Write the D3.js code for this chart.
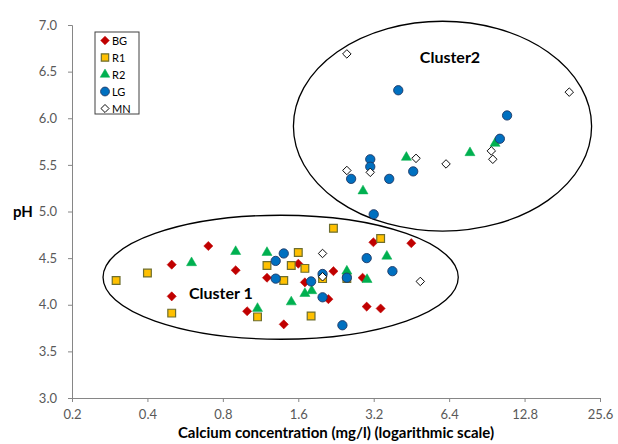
<!DOCTYPE html>
<html>
<head>
<meta charset="utf-8">
<script src="https://cdn.jsdelivr.net/npm/d3@7"></script>
<style>
  body { margin: 0; background: #fff; }
  svg { display: block; font-family: Lato, 'Open Sans', sans-serif; }
</style>
</head>
<body>
<svg id="chart" width="618" height="444"></svg>
<script>
const xTicks = [0.2, 0.4, 0.8, 1.6, 3.2, 6.4, 12.8, 25.6];
const xTickLabels = ['0.2', '0.4', '0.8', '1.6', '3.2', '6.4', '12.8', '25.6'];
const yTicks = [3.0, 3.5, 4.0, 4.5, 5.0, 5.5, 6.0, 6.5, 7.0];

const bgCa = [0.50, 0.50, 0.70, 0.90, 1.00, 1.20, 1.40, 1.60, 1.70, 2.11, 2.21, 2.89, 3.00, 3.19, 3.41, 4.52];
const bgPH = [4.43, 4.09, 4.63, 4.37, 3.93, 4.29, 3.79, 4.44, 4.24, 4.06, 4.36, 4.29, 3.98, 4.67, 3.96, 4.66];

const r1Ca = [0.30, 0.40, 0.50, 1.10, 1.20, 1.40, 1.50, 1.60, 1.70, 1.80, 2.00, 2.21, 2.50, 3.41];
const r1PH = [4.26, 4.34, 3.91, 3.87, 4.42, 4.26, 4.42, 4.56, 4.39, 3.88, 4.28, 4.82, 4.28, 4.71];

const r2Ca = [0.60, 0.90, 1.10, 1.20, 1.50, 1.70, 1.81, 2.50, 3.01, 3.61, 2.90, 4.32, 7.75, 9.76];
const r2PH = [4.45, 4.57, 3.96, 4.56, 4.03, 4.12, 4.15, 4.36, 4.27, 4.52, 5.22, 5.58, 5.63, 5.73];

const lgCa = [1.30, 1.40, 1.30, 1.80, 2.00, 2.00, 2.40, 2.50, 3.00, 3.80, 3.20, 2.60, 3.10, 3.10, 3.69, 4.60, 4.01, 10.2, 10.9];
const lgPH = [4.47, 4.55, 4.28, 4.25, 4.33, 4.08, 3.78, 4.29, 4.50, 4.36, 4.97, 5.35, 5.56, 5.48, 5.35, 5.43, 6.30, 5.78, 6.03];

const mnCa = [2.00, 2.00, 4.91, 2.50, 19.3, 2.50, 3.10, 4.72, 6.22, 9.43, 9.56];
const mnPH = [4.55, 4.30, 4.25, 6.69, 6.28, 5.44, 5.42, 5.57, 5.51, 5.65, 5.56];

// cluster outlines: [minCa, maxCa, minPH, maxPH]
const cluster1 = [0.266, 6.96, 3.63, 4.96];
const cluster2 = [1.53, 23.7, 4.79, 7.04];

const svg = d3.select('#chart');
const x = d3.scaleLog().base(2).domain([0.2, 25.6]).range([72, 600]);
const y = d3.scaleLinear().domain([3, 7]).range([398, 25]);

const axisColor = '#868686';
const labelColor = '#595959';

// axes
const yAxis = svg
  .append('g')
  .attr('transform', `translate(${x(0.2)},0)`)
  .call(d3.axisLeft(y).tickValues(yTicks).tickSize(4).tickPadding(11).tickFormat(d3.format('.1f')));
const xAxis = svg
  .append('g')
  .attr('transform', `translate(0,${y(3)})`)
  .call(d3.axisBottom(x).tickValues(xTicks).tickSize(4).tickPadding(5).tickFormat((d, i) => xTickLabels[i]));

[xAxis, yAxis].forEach((g) => {
  g.select('.domain').attr('stroke', axisColor);
  g.selectAll('.tick line').attr('stroke', axisColor);
  g.selectAll('.tick text').attr('fill', labelColor).attr('font-size', '13px').attr('font-family', 'Lato, sans-serif');
});
xAxis.selectAll('.tick text').attr('dy', '0.9em');

svg
  .append('text')
  .attr('x', (x(0.2) + x(25.6)) / 2)
  .attr('y', 438)
  .attr('text-anchor', 'middle')
  .attr('font-size', '15px')
  .attr('font-weight', 'bold')
  .attr('fill', '#000')
  .text('Calcium concentration (mg/l) (logarithmic scale)');

svg
  .append('text')
  .attr('x', 23)
  .attr('y', y(5) + 5)
  .attr('text-anchor', 'middle')
  .attr('font-size', '15px')
  .attr('font-weight', 'bold')
  .text('pH');

// cluster ellipses
[cluster1, cluster2].forEach((c) => {
  const x0 = x(c[0]);
  const x1 = x(c[1]);
  const y0 = y(c[3]);
  const y1 = y(c[2]);
  svg
    .append('ellipse')
    .attr('cx', (x0 + x1) / 2)
    .attr('cy', (y0 + y1) / 2)
    .attr('rx', (x1 - x0) / 2)
    .attr('ry', (y1 - y0) / 2)
    .attr('fill', 'none')
    .attr('stroke', '#000')
    .attr('stroke-width', 1.3);
});

svg
  .append('text')
  .attr('x', x(0.786))
  .attr('y', y(4.06))
  .attr('text-anchor', 'middle')
  .attr('font-size', '16px')
  .attr('font-weight', 'bold')
  .text('Cluster 1');
svg
  .append('text')
  .attr('x', x(6.45))
  .attr('y', y(6.59))
  .attr('text-anchor', 'middle')
  .attr('font-size', '16px')
  .attr('font-weight', 'bold')
  .text('Cluster2');

// series (diamonds are squares turned 45 degrees)
const series = [
  { name: 'BG', ca: bgCa, ph: bgPH, symbol: d3.symbolSquare, rot: 45, size: 42, fill: '#C00000', stroke: '#C00000', sw: 0.5 },
  { name: 'R1', ca: r1Ca, ph: r1PH, symbol: d3.symbolSquare, rot: 0, size: 60, fill: '#FFC000', stroke: '#6E6E2E', sw: 1.2 },
  { name: 'R2', ca: r2Ca, ph: r2PH, symbol: d3.symbolTriangle, rot: 0, size: 44, fill: '#00B050', stroke: '#00B050', sw: 0.5 },
  { name: 'LG', ca: lgCa, ph: lgPH, symbol: d3.symbolCircle, rot: 0, size: 68, fill: '#0070C0', stroke: '#1F3864', sw: 0.9 },
  { name: 'MN', ca: mnCa, ph: mnPH, symbol: d3.symbolSquare, rot: 45, size: 36, fill: '#FFFFFF', stroke: '#000000', sw: 0.9 },
];

series.forEach((s) => {
  svg
    .append('g')
    .selectAll('path')
    .data(s.ca.map((c, i) => ({ ca: c, ph: s.ph[i] })))
    .join('path')
    .attr('transform', (d) => `translate(${x(d.ca)},${y(d.ph)}) rotate(${s.rot})`)
    .attr('d', d3.symbol(s.symbol, s.size))
    .attr('fill', s.fill)
    .attr('stroke', s.stroke)
    .attr('stroke-width', s.sw);
});

// legend
const legend = svg.append('g').attr('transform', 'translate(95,32)');
legend
  .append('rect')
  .attr('width', 44)
  .attr('height', 82)
  .attr('fill', '#fff')
  .attr('stroke', '#404040')
  .attr('stroke-width', 1);
const items = legend
  .selectAll('g')
  .data(series)
  .join('g')
  .attr('transform', (d, i) => `translate(10,${8.5 + i * 17})`);
items
  .append('path')
  .attr('d', (d) => d3.symbol(d.symbol, d.size * 0.9)())
  .attr('transform', (d) => `rotate(${d.rot})`)
  .attr('fill', (d) => d.fill)
  .attr('stroke', (d) => d.stroke)
  .attr('stroke-width', (d) => d.sw);
items
  .append('text')
  .attr('x', 7)
  .attr('y', 4)
  .attr('font-size', '11px')
  .attr('fill', '#000')
  .text((d) => d.name);
</script>
</body>
</html>
